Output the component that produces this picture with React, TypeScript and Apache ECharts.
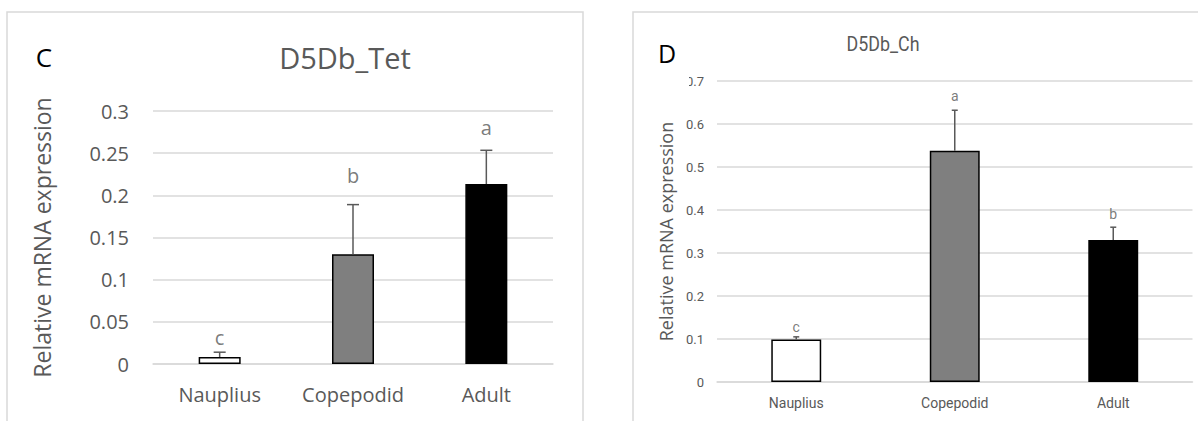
import React, { useEffect, useRef } from "react";
import * as echarts from "echarts";

const categories = ["Nauplius", "Copepodid", "Adult"];
const barColors = ["#ffffff", "#7f7f7f", "#000000"];

// Panel C: D5Db_Tet
const tetValues = [0.0083, 0.130, 0.2134];
const tetErrors = [0.0057, 0.059, 0.040];
const tetLetters = ["c", "b", "a"];
const tetLetterPos = [0.031, 0.223, 0.28];

// Panel D: D5Db_Ch
const chValues = [0.099, 0.538, 0.330];
const chErrors = [0.006, 0.094, 0.030];
const chLetters = ["c", "a", "b"];
const chLetterPos = [0.128, 0.665, 0.391];

const GRAY = "#595959";
const GRID = "#d9d9d9";
const FONT_C = "'Open Sans', 'Noto Sans', sans-serif";
const FONT_D = "Roboto, 'Noto Sans', sans-serif";

function errorSeries(idx: number, values: number[], errors: number[], capHalf: number) {
  return {
    type: "custom",
    xAxisIndex: idx,
    yAxisIndex: idx,
    z: 5,
    data: values.map((v, i) => [i, v, v + errors[i]]),
    renderItem: (params: any, api: any) => {
      const x = api.value(0);
      const p0 = api.coord([x, api.value(1)]);
      const p1 = api.coord([x, api.value(2)]);
      const st = { stroke: GRAY, lineWidth: 1.5 };
      return {
        type: "group",
        children: [
          { type: "line", shape: { x1: p0[0], y1: p0[1], x2: p1[0], y2: p1[1] }, style: st },
          { type: "line", shape: { x1: p1[0] - capHalf, y1: p1[1], x2: p1[0] + capHalf, y2: p1[1] }, style: st },
        ],
      };
    },
  };
}

function letterSeries(idx: number, letters: string[], pos: number[], fontSize: number, font: string) {
  return {
    type: "scatter",
    xAxisIndex: idx,
    yAxisIndex: idx,
    symbolSize: 0,
    z: 6,
    data: pos.map((p, i) => ({ value: [i, p], name: letters[i] })),
    label: {
      show: true,
      position: "inside",
      formatter: (d: any) => d.name,
      color: GRAY,
      fontSize,
      fontFamily: font,
    },
  };
}

export default function App() {
  const ref = useRef<HTMLDivElement>(null);
  useEffect(() => {
    const chart = echarts.init(ref.current!, null, { renderer: "svg" });
    chart.setOption({
      animation: false,
      backgroundColor: "#ffffff",
      grid: [
        { left: 153, top: 111, width: 400, height: 253 },
        { left: 717, top: 81, width: 475.5, height: 301 },
      ],
      xAxis: [
        {
          type: "category",
          gridIndex: 0,
          data: categories,
          axisLine: { show: true, lineStyle: { color: GRID, width: 1.5 } },
          axisTick: { show: false },
          axisLabel: { color: GRAY, fontSize: 20, margin: 20, fontFamily: FONT_C },
        },
        {
          type: "category",
          gridIndex: 1,
          data: categories,
          axisLine: { show: true, lineStyle: { color: GRID, width: 1.5 } },
          axisTick: { show: false },
          axisLabel: { color: GRAY, fontSize: 14, margin: 14, fontFamily: FONT_D },
        },
      ],
      yAxis: [
        {
          type: "value",
          gridIndex: 0,
          min: 0,
          max: 0.3,
          interval: 0.05,
          axisLine: { show: false },
          axisTick: { show: false },
          splitLine: { lineStyle: { color: GRID, width: 1.5 } },
          axisLabel: { color: GRAY, fontSize: 20, margin: 24, fontFamily: FONT_C },
          name: "Relative mRNA expression",
          nameLocation: "middle",
          nameGap: 100,
          nameTextStyle: { color: GRAY, fontSize: 23, fontFamily: FONT_C },
        },
        {
          type: "value",
          gridIndex: 1,
          min: 0,
          max: 0.7,
          interval: 0.1,
          axisLine: { show: false },
          axisTick: { show: false },
          splitLine: { lineStyle: { color: GRID, width: 1.5 } },
          axisLabel: { color: GRAY, fontSize: 13, margin: 13, fontFamily: FONT_D },
          name: "Relative mRNA expression",
          nameLocation: "middle",
          nameGap: 42,
          nameTextStyle: { color: GRAY, fontSize: 18, fontFamily: FONT_C },
        },
      ],
      graphic: [
        { type: "rect", shape: { x: 7, y: 12, width: 576, height: 430 }, style: { fill: "none", stroke: GRID, lineWidth: 1.5 }, z: -1 },
        { type: "rect", shape: { x: 633, y: 12, width: 600, height: 430 }, style: { fill: "none", stroke: GRID, lineWidth: 1.5 }, z: -1 },
        { type: "rect", shape: { x: 678, y: 70, width: 11, height: 20 }, style: { fill: "#ffffff" }, z: 100 },
        { type: "text", x: 44, y: 57, style: { text: "C", fontSize: 26, fill: "#000", fontFamily: FONT_C, align: "center", verticalAlign: "middle" } },
        { type: "text", x: 345, y: 57, style: { text: "D5Db_Tet", fontSize: 29, fill: GRAY, fontFamily: FONT_C, align: "center", verticalAlign: "middle" } },
        { type: "text", x: 667, y: 53, style: { text: "D", fontSize: 25, fill: "#000", fontFamily: FONT_C, align: "center", verticalAlign: "middle" } },
        { type: "text", x: 883, y: 44, scaleX: 0.85, style: { text: "D5Db_Ch", fontSize: 21, fill: GRAY, fontFamily: FONT_D, align: "center", verticalAlign: "middle" } },
      ],
      series: [
        {
          type: "bar",
          xAxisIndex: 0,
          yAxisIndex: 0,
          barWidth: "31.5%",
          data: tetValues.map((v, i) => ({ value: v, itemStyle: { color: barColors[i] } })),
          itemStyle: { borderColor: "#000", borderWidth: 1.5 },
        },
        errorSeries(0, tetValues, tetErrors, 6),
        letterSeries(0, tetLetters, tetLetterPos, 20, FONT_C),
        {
          type: "bar",
          xAxisIndex: 1,
          yAxisIndex: 1,
          barWidth: "31.5%",
          data: chValues.map((v, i) => ({ value: v, itemStyle: { color: barColors[i] } })),
          itemStyle: { borderColor: "#000", borderWidth: 1.5 },
        },
        errorSeries(1, chValues, chErrors, 3),
        letterSeries(1, chLetters, chLetterPos, 14, FONT_D),
      ],
    });
    return () => chart.dispose();
  }, []);
  return (
    <div
      ref={ref}
      style={{ position: "fixed", left: 0, top: 0, width: 1198, height: 421, background: "#fff" }}
    />
  );
}
